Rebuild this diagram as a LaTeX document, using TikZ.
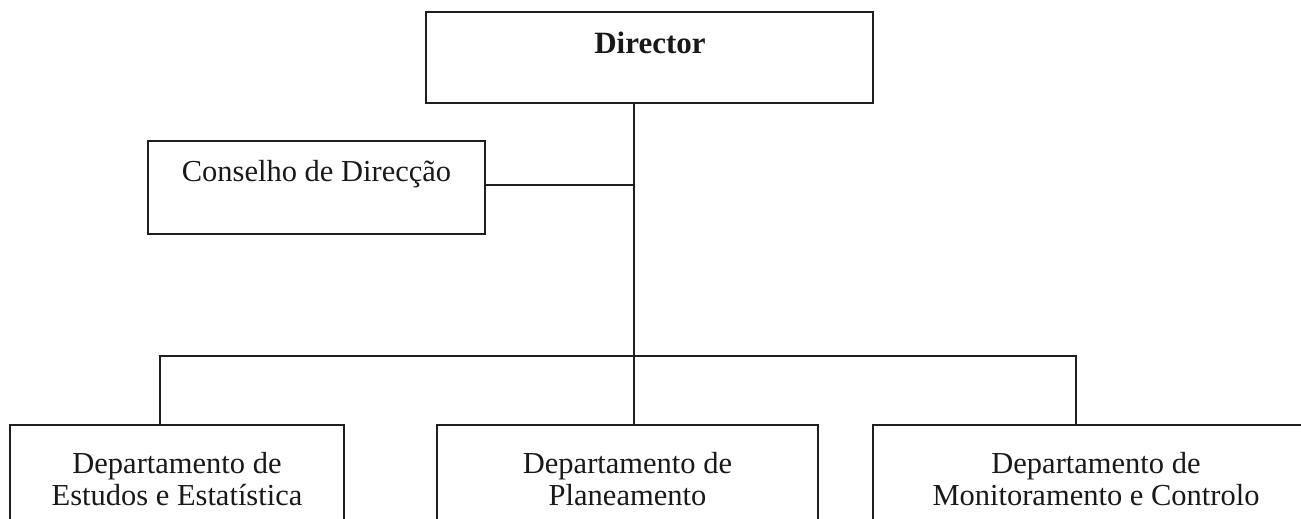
\documentclass[tikz,border=0pt]{standalone}
\usepackage{fontspec}
\setmainfont{Liberation Serif}
\begin{document}
\begin{tikzpicture}[x=1pt,y=-1pt,
  orgbox/.style={draw=black!88, line width=2.5pt, rectangle, inner sep=0pt},
  lbl/.style={inner sep=0pt, anchor=base, text=black!90, font=\fontsize{30.5}{30}\selectfont},
  link/.style={draw=black!88, line width=2.4pt}]
\useasboundingbox (0,0) rectangle (1301,519);
\clip (0,0) rectangle (1301,519);
% boxes
\node[orgbox, minimum width=447pt, minimum height=91pt] (dir) at (649.5,57.5) {};
\node[orgbox, minimum width=337pt, minimum height=93pt] (cons) at (316.5,187.5) {};
\node[orgbox, minimum width=334pt, minimum height=140pt] (d1) at (177,495) {};
\node[orgbox, minimum width=381pt, minimum height=140pt] (d2) at (627.5,495) {};
\node[orgbox, minimum width=446pt, minimum height=140pt] (d3) at (1096,495) {};
% texts
\node[lbl, font=\fontsize{31}{30}\selectfont\bfseries] (tdir) at (650,54) {Director};
\node[lbl] (tcons) at (316.5,181) {Conselho de Direcção};
\node[lbl] (t1a) at (177,473) {Departamento de};
\node[lbl] (t1b) at (177,505) {Estudos e Estatística};
\node[lbl] (t2a) at (627.5,473) {Departamento de};
\node[lbl] (t2b) at (627.5,505) {Planeamento};
\node[lbl] (t3a) at (1096,473) {Departamento de};
\node[lbl] (t3b) at (1096,505) {Monitoramento e Controlo};
% junctions
\coordinate (j) at (634,185);
\coordinate (busL) at (160,356);
\coordinate (busC) at (634,356);
\coordinate (busR) at (1076,356);
% connectors
\draw[link] (dir.south -| j) -- (busC);
\draw[link] (j -| cons.east) -- (j);
\draw[link] (d1.north -| busL) -- (busL) -- (busR) -- (d3.north -| busR);
\draw[link] (busC) -- (d2.north -| busC);
\end{tikzpicture}
\end{document}
